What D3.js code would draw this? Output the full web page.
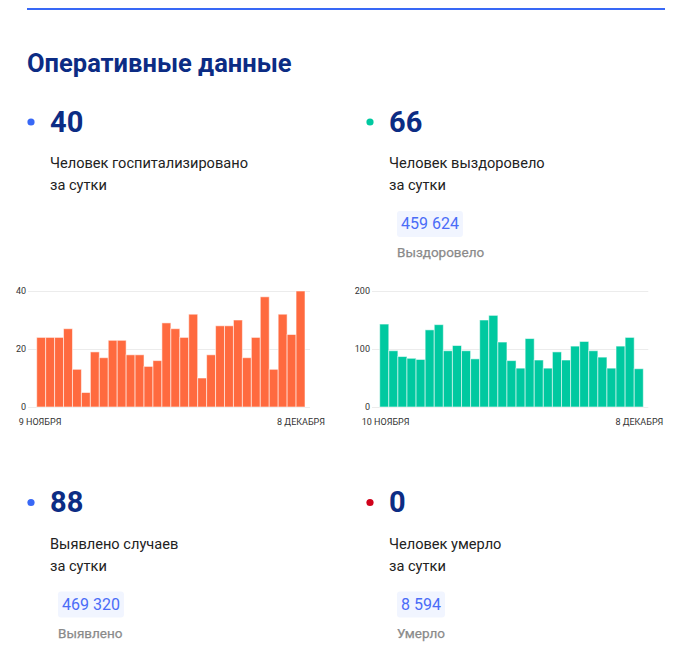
<!DOCTYPE html>
<html>
<head>
<meta charset="utf-8">
<script src="https://cdn.jsdelivr.net/npm/d3@7"></script>
<style>
  body { margin: 0; background: #fff; font-family: Roboto, "Noto Sans", sans-serif; }
</style>
</head>
<body>
<div id="chart"></div>
<script>
// данные
const hospValues = [24, 24, 24, 27, 13, 5, 19, 17, 23, 23, 18, 18, 14, 16, 29,
                    27, 24, 32, 10, 18, 28, 28, 30, 17, 24, 38, 13, 32, 25, 40];
const recovValues = [143, 97, 87, 84, 82, 133, 142, 97, 106, 97, 83, 150, 158, 112, 80,
                     67, 118, 81, 67, 95, 81, 105, 113, 97, 86, 67, 105, 120, 66];
const hospTicks = [0, 20, 40];
const recovTicks = [0, 100, 200];
const hospDates = ["9 НОЯБРЯ", "8 ДЕКАБРЯ"];
const recovDates = ["10 НОЯБРЯ", "8 ДЕКАБРЯ"];

const dailyValues = ["40", "66", "88", "0"];
const dailyLabels = [
  ["Человек госпитализировано", "за сутки"],
  ["Человек выздоровело", "за сутки"],
  ["Выявлено случаев", "за сутки"],
  ["Человек умерло", "за сутки"]
];
const dotColors = ["#3868f6", "#00c9a0", "#3868f6", "#d0021b"];
const totalValues = [null, "459 624", "469 320", "8 594"];
const totalLabels = [null, "Выздоровело", "Выявлено", "Умерло"];

const W = 690, H = 660;
const svg = d3.select("#chart").append("svg")
  .attr("width", W).attr("height", H)
  .attr("viewBox", [0, 0, W, H]);

// верхняя линия
svg.append("rect")
  .attr("x", 27).attr("y", 8).attr("width", 638).attr("height", 2)
  .attr("fill", "#3868f6");

svg.append("text")
  .attr("x", 27).attr("y", 72)
  .style("font-size", "25.5px").style("font-weight", 700)
  .attr("fill", "#0c2c84")
  .text("Оперативные данные");

// блоки с цифрами
const blocks = [
  { x: 31, y: 0 },
  { x: 370, y: 0 },
  { x: 31, y: 380.5 },
  { x: 370, y: 380.5 }
];

blocks.forEach((b, i) => {
  const g = svg.append("g").attr("transform", `translate(${b.x},${b.y})`);
  g.append("circle").attr("cx", 0).attr("cy", 122).attr("r", 3.6).attr("fill", dotColors[i]);
  g.append("text")
    .attr("x", 19).attr("y", 131.5)
    .style("font-size", "29px").style("font-weight", 700)
    .attr("fill", "#0c2c84")
    .text(dailyValues[i]);
  dailyLabels[i].forEach((t, k) => {
    g.append("text")
      .attr("x", 19).attr("y", 168 + k * 22)
      .style("font-size", "14.6px")
      .attr("fill", "#222")
      .text(t);
  });
  if (totalValues[i]) {
    const txt = g.append("text")
      .attr("x", 31).attr("y", 229)
      .style("font-size", "16px")
      .attr("fill", "#4a6cf7")
      .text(totalValues[i]);
    const bw = txt.node().getComputedTextLength();
    g.insert("rect", "text")
      .attr("x", 27).attr("y", 211)
      .attr("width", bw + 8).attr("height", 26)
      .attr("rx", 3)
      .attr("fill", "#f1f5ff");
    g.append("text")
      .attr("x", 27).attr("y", 257)
      .style("font-size", "13.5px").style("font-weight", 400)
      .style("stroke", "#8a8a8a").style("stroke-width", 0.25)
      .attr("fill", "#8a8a8a")
      .text(totalLabels[i]);
  }
});

// гистограммы
function barChart(values, ticks, dates, color, x0, x1, axisX) {
  const g = svg.append("g");
  const x = d3.scaleBand().domain(d3.range(values.length)).range([x0, x1]);
  const y = d3.scaleLinear().domain([0, d3.max(ticks)]).range([407, 291]);

  const axis = g.append("g")
    .attr("transform", `translate(${axisX},0)`)
    .call(d3.axisLeft(y).tickValues(ticks).tickSize(-(x1 + 5 - axisX)).tickPadding(2));
  axis.select(".domain").remove();
  axis.selectAll(".tick line").attr("stroke", "#ececec");
  axis.selectAll(".tick text")
    .attr("fill", "#333")
    .style("font-size", "9px")
    .style("font-family", "Roboto, sans-serif");

  g.append("g").selectAll("rect")
    .data(values)
    .enter()
    .append("rect")
    .attr("x", (d, i) => x(i))
    .attr("y", d => y(d))
    .attr("width", x.bandwidth())
    .attr("height", d => y(0) - y(d))
    .attr("fill", color)
    .attr("stroke", "rgba(255,255,255,0.55)")
    .attr("stroke-width", 1);

  g.append("text")
    .attr("x", x0 - 18).attr("y", 425)
    .style("font-size", "9px").attr("fill", "#333")
    .text(dates[0]);
  g.append("text")
    .attr("x", x1 + 20).attr("y", 425)
    .attr("text-anchor", "end")
    .style("font-size", "9px").attr("fill", "#333")
    .text(dates[1]);
}

barChart(hospValues, hospTicks, hospDates, "#ff6a3f", 36.7, 305, 28);
barChart(recovValues, recovTicks, recovDates, "#00c9a0", 379.7, 643.3, 372);
</script>
</body>
</html>
